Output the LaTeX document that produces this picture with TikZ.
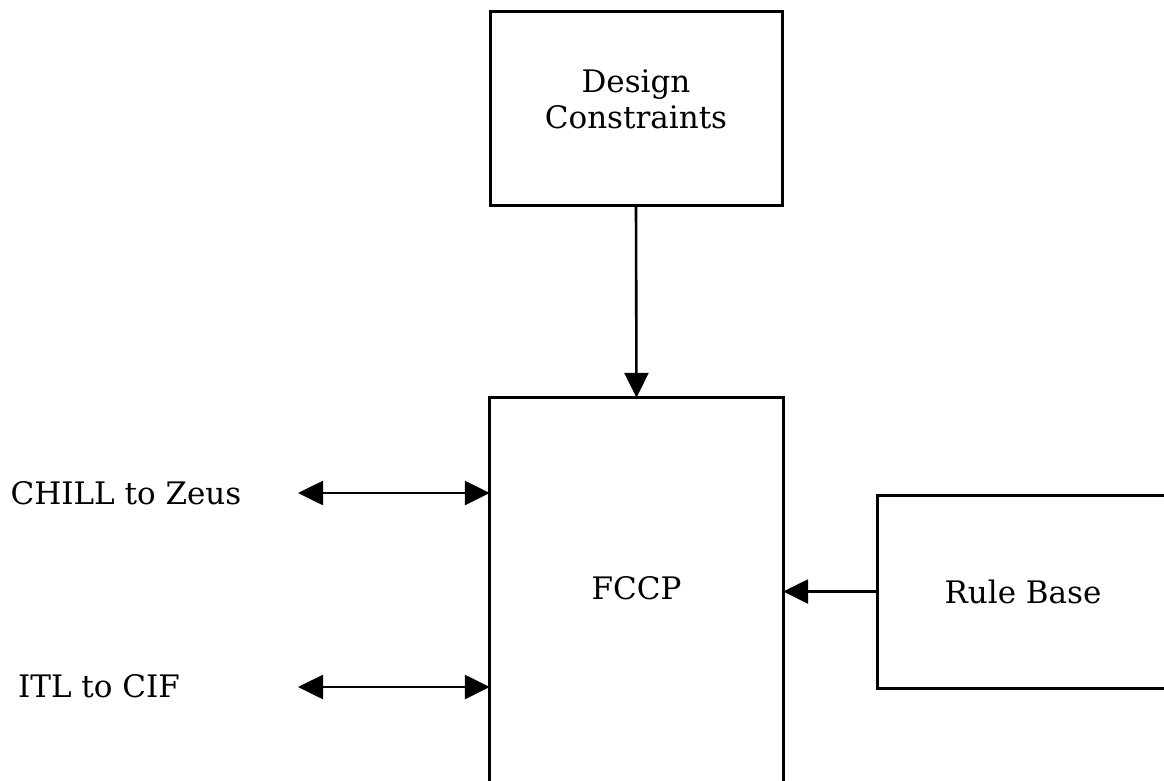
\documentclass[tikz,border=0pt]{standalone}
\usepackage{fontspec}
\setmainfont{DejaVu Serif}
\usetikzlibrary{arrows.meta}
\begin{document}
\begin{tikzpicture}[x=1pt,y=-1pt,
  box/.style={draw,line width=3pt,inner sep=0pt,align=center},
  plain/.style={inner sep=0pt,align=center},
  link/.style={line width=2.6pt,-{Triangle[length=25pt,width=24pt]}},
  dlink/.style={line width=2.6pt,{Triangle[length=25pt,width=24pt]}-{Triangle[length=25pt,width=24pt]}},
  font=\fontsize{31}{36}\selectfont]
\clip (0,0) rectangle (1164,780);
\fill[white] (0,0) rectangle (1164,780);

% blocks
\node[box,minimum width=292pt,minimum height=194pt] (dc) at (636,108) {};
\node[plain] (dctext) at (636,99) {Design\\Constraints};
\node[plain,minimum width=293pt,minimum height=380pt] (fccp) at (636.5,588) {FCCP};
\draw[line width=3pt] ([yshift=-12pt]fccp.south west) -- (fccp.north west)
  -- (fccp.north east) -- ([yshift=-12pt]fccp.south east);
\node[box,minimum width=292pt,minimum height=193pt] (rb) at (1023,591.5) {Rule Base};

% external interfaces
\node[plain] (chill) at (126,493) {CHILL to Zeus};
\node[plain] (itl) at (99,686) {ITL to CIF};
\coordinate (c1) at (298,493);
\coordinate (c2) at (298,687);

% connectors
\draw[link] (dc.south) -- (fccp.north);
\draw[dlink] (c1) -- (c1 -| fccp.west);
\draw[dlink] (c2) -- (c2 -| fccp.west);
\draw[link] (rb.west) -- (rb.west -| fccp.east);
\end{tikzpicture}
\end{document}
